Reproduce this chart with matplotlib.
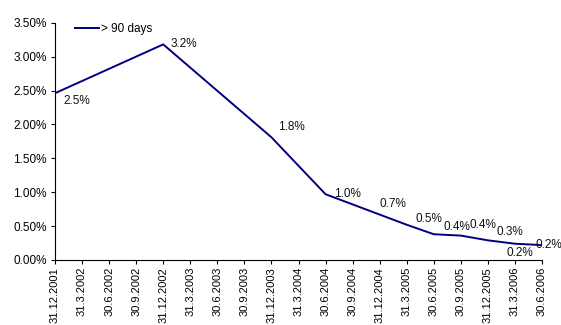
import matplotlib.pyplot as plt
import matplotlib.ticker as mticker

plt.rcParams['font.family'] = ['Liberation Sans', 'DejaVu Sans']

# quarter labels on the x axis
quarters = ["31.12.2001", "31.3.2002", "30.6.2002", "30.9.2002", "31.12.2002",
            "31.3.2003", "30.6.2003", "30.9.2003", "31.12.2003", "31.3.2004",
            "30.6.2004", "30.9.2004", "31.12.2004", "31.3.2005", "30.6.2005",
            "30.9.2005", "31.12.2005", "31.3.2006", "30.6.2006"]

# data points (share of loans > 90 days overdue, %)
point_dates = ["31.12.2001", "31.12.2002", "31.12.2003", "30.6.2004", "31.12.2004",
               "31.3.2005", "30.6.2005", "30.9.2005", "31.12.2005", "31.3.2006",
               "30.6.2006"]
point_values = [2.46, 3.18, 1.81, 0.97, 0.67, 0.52, 0.38, 0.36, 0.29, 0.24, 0.22]
point_labels = ["2.5%", "3.2%", "1.8%", "1.0%", "0.7%", "0.5%", "0.4%", "0.4%",
                "0.3%", "0.2%", "0.2%"]
# label offsets in points (hand placed, like the original)
label_offsets = [(6, -10), (5, -4), (5, 3), (6, -4), (0, 3), (6, 0), (7, 1),
                 (6, 3), (6, 2), (-6, -11), (-5, -4)]

fig = plt.figure(figsize=(5.61, 3.25), dpi=100)
ax = fig.add_axes([55 / 561, 65 / 325, 487 / 561, 237.3 / 325])

xs = [quarters.index(d) for d in point_dates]
ax.plot(xs, point_values, color="#000080", lw=1.4, label="> 90 days")

for x, v, t, off in zip(xs, point_values, point_labels, label_offsets):
    ax.annotate(t, (x, v), xytext=off, textcoords="offset points",
                fontsize=8.5, ha="left", va="bottom", color="#111111")

ax.set_xlim(0, len(quarters) - 1)
ax.set_ylim(0, 3.5)
ax.set_xticks(range(len(quarters)))
ax.set_xticklabels(quarters, rotation=90, fontsize=8)
ax.yaxis.set_major_locator(mticker.MultipleLocator(0.5))
ax.yaxis.set_major_formatter(mticker.FuncFormatter(lambda v, p: f"{v:.2f}%"))
ax.tick_params(axis="y", labelsize=8.5, length=3, width=0.8, pad=3)
ax.tick_params(axis="x", length=3, width=0.8, pad=2)

for s in ["top", "right"]:
    ax.spines[s].set_visible(False)
for s in ["left", "bottom"]:
    ax.spines[s].set_linewidth(0.8)

ax.legend(loc="upper left", bbox_to_anchor=(0.02, 1.045), frameon=False,
          fontsize=8.5, handlelength=2.0, handletextpad=0.15)

fig.savefig("out.png", dpi=100)
